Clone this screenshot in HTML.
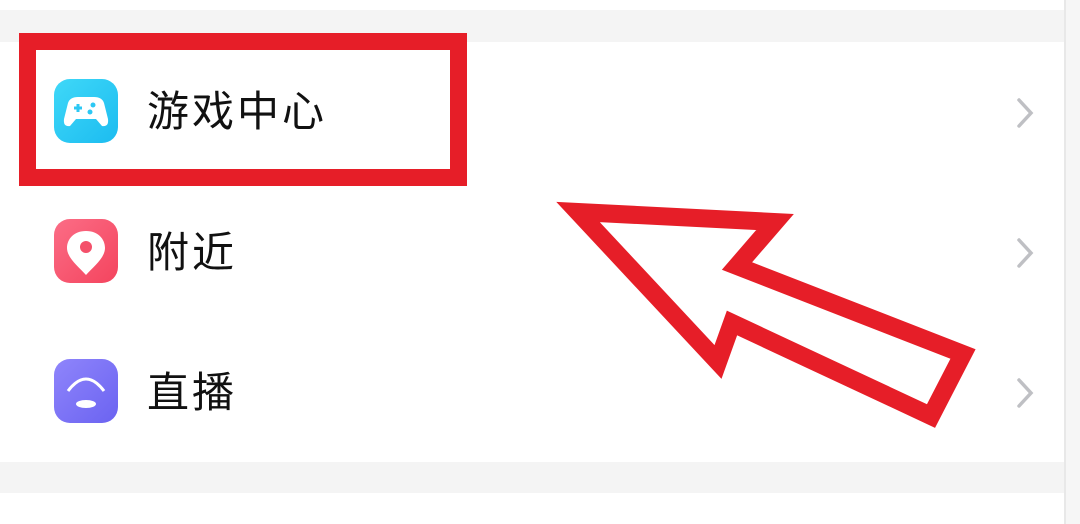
<!DOCTYPE html>
<html><head><meta charset="utf-8"><style>
body{margin:0;width:1080px;height:524px;overflow:hidden;background:#fff;position:relative;font-family:"Liberation Sans","Noto Sans CJK SC",sans-serif}
.band{position:absolute;left:0;width:1080px;background:#f4f4f4}
.t{position:absolute;left:147px;font-size:42px;letter-spacing:3px;color:#111;line-height:1}
.ic{position:absolute;left:54px;width:64px;height:64px;border-radius:16px}
</style></head><body>
<div class="band" style="top:10px;height:32px"></div>
<div class="band" style="top:462px;height:31px"></div>
<div style="position:absolute;left:1064px;top:0;width:16px;height:524px;background:#f6f6f6;border-left:2px solid #e8e8e8"></div>
<div class="ic" style="top:79px;background:linear-gradient(135deg,#3fd8f8,#1cbcf0)"></div>
<svg style="position:absolute;left:54px;top:79px" width="64" height="64"><path d="M14 24 Q16 18 24 18 L40 18 Q48 18 50 24 L54 40 Q55 48 48 47 L42 40 L22 40 L16 47 Q9 48 10 40 Z" fill="#fff"/><path d="M20 29h8M24 25v8" stroke="#2cc8f4" stroke-width="3"/><circle cx="39" cy="26" r="2.5" fill="#2cc8f4"/><circle cx="36" cy="33" r="2.5" fill="#2cc8f4"/></svg>
<div class="t" style="top:91px">游戏中心</div>
<div class="ic" style="top:219px;background:linear-gradient(135deg,#fb6d86,#f4445e)"></div>
<svg style="position:absolute;left:54px;top:219px" width="64" height="64"><path d="M32 12 C20 12 13 20 13 29 C13 39 25 48 32 56 C39 48 51 39 51 29 C51 20 44 12 32 12Z" fill="#fff"/><circle cx="32" cy="28" r="6" fill="#f4506a"/></svg>
<div class="t" style="top:232px">附近</div>
<div class="ic" style="top:359px;background:linear-gradient(135deg,#8f85fb,#6b63f1)"></div>
<svg style="position:absolute;left:54px;top:359px" width="64" height="64"><path d="M14 32 Q32 8 50 32" stroke="#fff" stroke-width="3" fill="none"/><ellipse cx="32" cy="45" rx="10" ry="4" fill="#fff"/></svg>
<div class="t" style="top:372px">直播</div>
<svg style="position:absolute;left:0;top:0" width="1080" height="524">
<g stroke="#bfc0c4" stroke-width="3.5" fill="none" stroke-linecap="round"><path d="M1019 100l12 13-12 13"/><path d="M1019 240l12 13-12 13"/><path d="M1019 380l12 13-12 13"/></g>
<rect x="27.5" y="41.5" width="431" height="136" fill="none" stroke="#e61e28" stroke-width="17"/>
<polygon points="578,212 775,222 737,266 963,354 931,416 732,323 718,362" fill="none" stroke="#e61e28" stroke-width="18" stroke-linejoin="miter"/>
</svg>
</body></html>
